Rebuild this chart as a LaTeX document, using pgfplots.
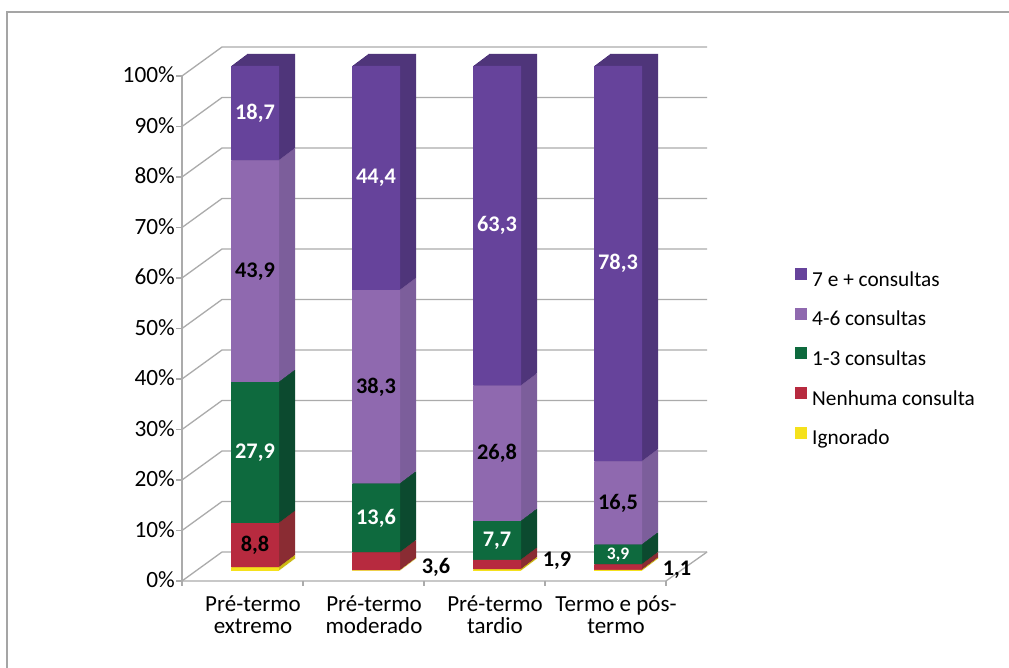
\documentclass[border=0pt]{standalone}
\usepackage{fontspec}
\setmainfont{Carlito}
\usepackage{pgfplots}
\usepackage{pgfplotstable}
\pgfplotsset{compat=1.18}

\definecolor{cA}{HTML}{66439B}
\definecolor{cAs}{HTML}{4F357A}
\definecolor{cB}{HTML}{8F69AF}
\definecolor{cBs}{HTML}{7C5E9B}
\definecolor{cC}{HTML}{0E6A3E}
\definecolor{cCs}{HTML}{0C4A2F}
\definecolor{cD}{HTML}{B72A3F}
\definecolor{cDs}{HTML}{8A2C33}
\definecolor{cE}{HTML}{F5E11C}
\definecolor{cEs}{HTML}{CDBB14}
\definecolor{gridc}{HTML}{ABABAB}
\definecolor{framec}{HTML}{A5A5A5}

% share (%) by number of prenatal visits, per gestational-age group
\pgfplotstableread{
x ign nen c13 c46 c7
255 0.7 8.8 27.9 43.9 18.7
376 0.1 3.6 13.6 38.3 44.4
497 0.3 1.9 7.7 26.8 63.3
618 0.2 1.1 3.9 16.5 78.3
}\datatable

\pgfplotsset{
  base/.style={x=1pt, y=5.05pt, xmin=182, xmax=710, ymin=-1.98, ymax=105,
    enlargelimits=false, anchor=south west, clip=false},
  bars/.style={base, hide axis, ybar stacked, bar width=48pt},
  gl/.style={gridc, line width=1.3pt, mark=none, forget plot},
}

\newcommand{\copyaxis}[1]{%
\begin{axis}[bars, at={(182pt+#1pt,87pt+0.75*#1pt)}]
\addplot[fill=cEs,draw=none] table[x=x,y=ign]{\datatable};
\addplot[fill=cDs,draw=none] table[x=x,y=nen]{\datatable};
\addplot[fill=cCs,draw=none] table[x=x,y=c13]{\datatable};
\addplot[fill=cBs,draw=none] table[x=x,y=c46]{\datatable};
\addplot[fill=cAs,draw=none] table[x=x,y=c7]{\datatable};
\end{axis}}

\begin{document}
\begin{tikzpicture}
\useasboundingbox (0,0) rectangle (1009pt,668pt);
\fill[white] (0,0) rectangle (1009pt,668pt);
\draw[framec, line width=1.5pt] (7pt,-5pt) -- (7pt,656pt) -- (1015pt,656pt);

% walls, gridlines and tick labels
\begin{axis}[base, at={(182pt,87pt)},
  axis x line*=bottom, axis y line*=left, axis line style={draw=none},
  major tick length=0pt,
  ytick={-1.98,8.02,18.02,28.02,38.02,48.02,58.02,68.02,78.02,88.02,98.02},
  yticklabels={0\%,10\%,20\%,30\%,40\%,50\%,60\%,70\%,80\%,90\%,100\%},
  yticklabel style={font=\fontsize{23.3}{26}\selectfont, anchor=east, inner sep=0pt, xshift=-7pt, yshift=1pt},
  xtick={255,376,497,618},
  xticklabels={{Pré-termo\\extremo},{Pré-termo\\moderado},{Pré-termo\\tardio},{Termo e pós-\\termo}},
  xticklabel style={font=\fontsize{23}{22}\selectfont, align=center, anchor=north, inner sep=0pt, yshift=-15pt, xshift=-2pt},
]
\addplot[gl] coordinates {(182,-1.98) (222,3.76) (707,3.76)};
\addplot[gl] coordinates {(182,8.02) (222,13.76) (707,13.76)};
\addplot[gl] coordinates {(182,18.02) (222,23.76) (707,23.76)};
\addplot[gl] coordinates {(182,28.02) (222,33.76) (707,33.76)};
\addplot[gl] coordinates {(182,38.02) (222,43.76) (707,43.76)};
\addplot[gl] coordinates {(182,48.02) (222,53.76) (707,53.76)};
\addplot[gl] coordinates {(182,58.02) (222,63.76) (707,63.76)};
\addplot[gl] coordinates {(182,68.02) (222,73.76) (707,73.76)};
\addplot[gl] coordinates {(182,78.02) (222,83.76) (707,83.76)};
\addplot[gl] coordinates {(182,88.02) (222,93.76) (707,93.76)};
\addplot[gl] coordinates {(182,98.02) (222,103.76) (707,103.76)};
% front value axis and floor
\addplot[gl] coordinates {(182,-1.98) (182,98.02)};
\addplot[gl] coordinates {(182,-1.98) (666,-1.98) (707,3.76)};
% value ticks
\addplot[gl] coordinates {(176,-1.98) (182,-1.98)};
\addplot[gl] coordinates {(176,8.02) (182,8.02)};
\addplot[gl] coordinates {(176,18.02) (182,18.02)};
\addplot[gl] coordinates {(176,28.02) (182,28.02)};
\addplot[gl] coordinates {(176,38.02) (182,38.02)};
\addplot[gl] coordinates {(176,48.02) (182,48.02)};
\addplot[gl] coordinates {(176,58.02) (182,58.02)};
\addplot[gl] coordinates {(176,68.02) (182,68.02)};
\addplot[gl] coordinates {(176,78.02) (182,78.02)};
\addplot[gl] coordinates {(176,88.02) (182,88.02)};
\addplot[gl] coordinates {(176,98.02) (182,98.02)};
% category ticks
\addplot[gl] coordinates {(182,-1.98) (182,-3.0)};
\addplot[gl] coordinates {(303,-1.98) (303,-3.0)};
\addplot[gl] coordinates {(424,-1.98) (424,-3.0)};
\addplot[gl] coordinates {(545,-1.98) (545,-3.0)};
\addplot[gl] coordinates {(666,-1.98) (666,-3.0)};
\end{axis}

% depth of the columns (side faces), back to front
\copyaxis{16}\copyaxis{15}\copyaxis{14}\copyaxis{13}
\copyaxis{12}\copyaxis{11}\copyaxis{10}\copyaxis{9}
\copyaxis{8}\copyaxis{7}\copyaxis{6}\copyaxis{5}
\copyaxis{4}\copyaxis{3}\copyaxis{2}\copyaxis{1}

% front faces and legend
\begin{axis}[bars, at={(182pt,87pt)}, reverse legend,
  legend style={at={(1.161,0.580)}, anchor=north west, draw=none, fill=none,
    inner sep=0pt, font=\fontsize{21.3}{25}\selectfont, row sep=16.5pt,
    nodes={inner sep=0pt, text height=15pt, text depth=5pt},
    cells={anchor=west},
    /tikz/every odd column/.append style={column sep=5pt}},
  legend image code/.code={\fill[#1] (0pt,1.2pt) rectangle (12pt,13.2pt);},
]
\addplot[fill=cE,draw=none] table[x=x,y=ign]{\datatable};
\addlegendentry{Ignorado}
\addplot[fill=cD,draw=none] table[x=x,y=nen]{\datatable};
\addlegendentry{Nenhuma consulta}
\addplot[fill=cC,draw=none] table[x=x,y=c13]{\datatable};
\addlegendentry{1-3 consultas}
\addplot[fill=cB,draw=none] table[x=x,y=c46]{\datatable};
\addlegendentry{4-6 consultas}
\addplot[fill=cA,draw=none] table[x=x,y=c7]{\datatable};
\addlegendentry{7 e + consultas}
\end{axis}

% data labels
\begin{axis}[base, hide axis, at={(182pt,87pt)}]
\addplot[only marks, mark=none, nodes near coords, point meta=explicit symbolic,
  nodes near coords style={anchor=center, text=white, font=\bfseries\fontsize{22.3}{24}\selectfont}]
  table[meta=t]{
x y t
255 90.65 18,7
255 23.45 27,9
376 77.8 44,4
376 10.5 13,6
497 68.35 63,3
497 6.05 7,7
618 60.85 78,3
};
\addplot[only marks, mark=none, nodes near coords, point meta=explicit symbolic,
  nodes near coords style={anchor=center, text=black, font=\bfseries\fontsize{22.3}{24}\selectfont}]
  table[meta=t]{
x y t
255 59.35 43,9
255 5.1 8,8
376 36.45 38,3
497 23.3 26,8
618 13.45 16,5
436 0.8 3,6
557 2.0 1,9
677 0.2 1,1
};
\addplot[only marks, mark=none, nodes near coords, point meta=explicit symbolic,
  nodes near coords style={anchor=center, text=white, font=\bfseries\fontsize{17.5}{20}\selectfont}]
  table[meta=t]{
x y t
618 3.25 3,9
};
\end{axis}
\end{tikzpicture}
\end{document}
